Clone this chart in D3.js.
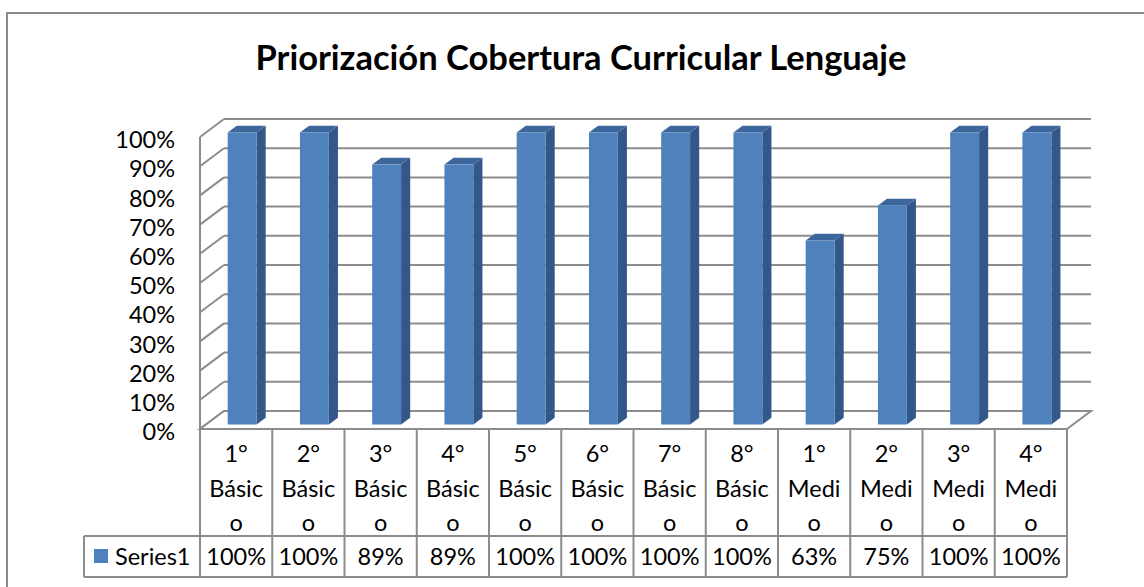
<!DOCTYPE html>
<html>
<head>
<meta charset="utf-8">
<script src="https://cdn.jsdelivr.net/npm/d3@7"></script>
<style>
  body { margin: 0; background: #fff; }
  svg { display: block; font-family: Lato, "Open Sans", sans-serif; }
</style>
</head>
<body>
<div id="chart"></div>
<script>
const title = "Priorización Cobertura Curricular Lenguaje"
const seriesName = "Series1"
const categories = ["1° Básico", "2° Básico", "3° Básico", "4° Básico", "5° Básico", "6° Básico",
  "7° Básico", "8° Básico", "1° Medio", "2° Medio", "3° Medio", "4° Medio"]
const values = [100, 100, 89, 89, 100, 100, 100, 100, 63, 75, 100, 100]
const yTicks = [0, 10, 20, 30, 40, 50, 60, 70, 80, 90, 100]

const width = 1144, height = 587
const plot = {left: 200, right: 1067, top: 137, bottom: 429}
const depth = {dx: 24, dy: -18}
const barDepth = [0.25, 0.63]
const table = {left: 84, headBottom: 536, bottom: 577}
const grid = "#8c8c8c"
const colors = {front: "#4f81bd", side: "#34578a", top: "#3d669c"}
const fs = 23.5

const svg = d3.select("#chart").append("svg")
  .attr("width", width).attr("height", height)
  .attr("viewBox", [0, 0, width, height])

// outer chart border (runs off the right/bottom of the picture)
svg.append("rect")
  .attr("x", 7).attr("y", 13)
  .attr("width", width + 20).attr("height", height + 20)
  .attr("fill", "#fff").attr("stroke", "#8a8a8a").attr("stroke-width", 2)

svg.append("text")
  .attr("x", 581).attr("y", 70)
  .attr("text-anchor", "middle")
  .attr("font-weight", 700).attr("font-size", 34.5)
  .attr("fill", "#000")
  .text(title)

const x = d3.scaleBand().domain(categories).range([plot.left, plot.right])
const y = d3.scaleLinear().domain([0, 100]).range([plot.bottom, plot.top])

// back wall gridlines
svg.append("g").selectAll("line")
  .data(yTicks)
  .join("line")
    .attr("x1", plot.left + depth.dx).attr("x2", plot.right + depth.dx)
    .attr("y1", d => y(d) + depth.dy).attr("y2", d => y(d) + depth.dy)
    .attr("stroke", grid).attr("stroke-width", 2)

// left wall
svg.append("g").selectAll("line")
  .data(yTicks)
  .join("line")
    .attr("x1", plot.left).attr("x2", plot.left + depth.dx)
    .attr("y1", d => y(d)).attr("y2", d => y(d) + depth.dy)
    .attr("stroke", grid).attr("stroke-width", 2)

svg.append("line")
  .attr("x1", plot.left).attr("x2", plot.left)
  .attr("y1", y(0)).attr("y2", y(100))
  .attr("stroke", grid).attr("stroke-width", 2)

// floor
svg.append("path")
  .attr("d", d3.line()([
    [plot.left, y(0)], [plot.right, y(0)],
    [plot.right + depth.dx, y(0) + depth.dy], [plot.left + depth.dx, y(0) + depth.dy]
  ]) + "Z")
  .attr("fill", "#fff").attr("stroke", grid).attr("stroke-width", 2)

// y axis labels
svg.append("g")
  .attr("font-size", fs)
  .attr("text-anchor", "end")
  .selectAll("text")
  .data(yTicks)
  .join("text")
    .attr("x", 175)
    .attr("y", d => y(d) + 3)
    .attr("dy", "0.35em")
    .text(d => d + "%")

// 3d bars
const bw = x.bandwidth() * 0.4
const ddx = (barDepth[1] - barDepth[0]) * depth.dx
const ddy = (barDepth[1] - barDepth[0]) * depth.dy

svg.append("g").selectAll("g")
  .data(categories.map((c, i) => ({c, v: values[i]})))
  .join("g")
  .each(function(d) {
    const cx = x(d.c) + x.bandwidth() / 2 + barDepth[0] * depth.dx
    const xl = cx - bw / 2, xr = cx + bw / 2
    const yt = y(d.v) + barDepth[0] * depth.dy
    const yb = y(0) + barDepth[0] * depth.dy
    const g = d3.select(this)
    g.append("path")
      .attr("d", d3.line()([[xr, yt], [xr + ddx, yt + ddy], [xr + ddx, yb + ddy], [xr, yb]]) + "Z")
      .attr("fill", colors.side)
    g.append("path")
      .attr("d", d3.line()([[xl, yt], [xr, yt], [xr + ddx, yt + ddy], [xl + ddx, yt + ddy]]) + "Z")
      .attr("fill", colors.top)
    g.append("rect")
      .attr("x", xl).attr("y", yt)
      .attr("width", bw).attr("height", yb - yt)
      .attr("fill", colors.front)
  })

// data table
const tbl = svg.append("g")
  .attr("stroke", grid).attr("stroke-width", 2)

tbl.selectAll("line.col")
  .data(categories.map(c => x(c)).concat([plot.right]))
  .join("line")
    .attr("class", "col")
    .attr("x1", d => d).attr("x2", d => d)
    .attr("y1", plot.bottom).attr("y2", table.bottom)

tbl.append("line")
  .attr("x1", table.left).attr("x2", table.left)
  .attr("y1", table.headBottom).attr("y2", table.bottom)

tbl.selectAll("line.row")
  .data([table.headBottom, table.bottom])
  .join("line")
    .attr("class", "row")
    .attr("x1", table.left).attr("x2", plot.right)
    .attr("y1", d => d).attr("y2", d => d)

const labelG = svg.append("g")
  .attr("font-size", fs)
  .attr("text-anchor", "middle")

// wrap labels by width, breaking words when they don't fit (like Excel does)
const maxW = 62
const measure = svg.append("text").attr("font-size", fs).attr("opacity", 0)
function textW(s) {
  measure.text(s)
  return measure.node().getComputedTextLength()
}
function wrap(label) {
  const out = []
  label.split(" ").forEach(word => {
    let rest = word
    while (rest.length) {
      let n = rest.length
      while (n > 1 && textW(rest.slice(0, n)) > maxW) n--
      out.push(rest.slice(0, n))
      rest = rest.slice(n)
    }
  })
  return out
}

categories.forEach(c => {
  const lines = wrap(c)
  labelG.append("g").selectAll("text")
    .data(lines)
    .join("text")
      .attr("x", x(c) + x.bandwidth() / 2)
      .attr("y", (d, i) => 454 + i * 34.5)
      .attr("dy", "0.35em")
      .text(d => d)
})
measure.remove()

labelG.selectAll("text.val")
  .data(values)
  .join("text")
    .attr("class", "val")
    .attr("x", (d, i) => x(categories[i]) + x.bandwidth() / 2)
    .attr("y", 557)
    .attr("dy", "0.35em")
    .text(d => d + "%")

svg.append("rect")
  .attr("x", 94).attr("y", 549)
  .attr("width", 14).attr("height", 14)
  .attr("fill", colors.front)

svg.append("text")
  .attr("x", 115).attr("y", 557)
  .attr("dy", "0.35em")
  .attr("font-size", fs)
  .text(seriesName)
</script>
</body>
</html>
